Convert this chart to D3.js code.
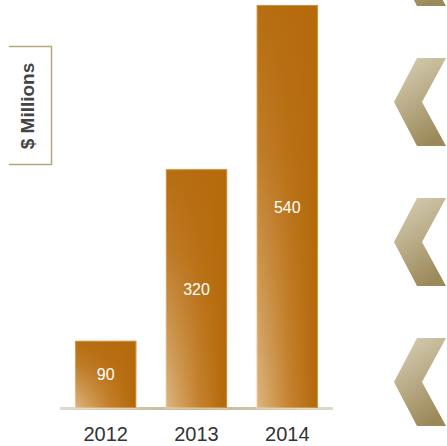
<!DOCTYPE html>
<html>
<head>
<meta charset="utf-8">
<script src="https://cdn.jsdelivr.net/npm/d3@7"></script>
<style>
  body { margin: 0; background: #fff; }
  svg { display: block; }
</style>
</head>
<body>
<svg width="447" height="446"></svg>
<script>
const years = ["2012", "2013", "2014"];
const values = [90, 320, 540];
const axisTitle = "$ Millions";
const chevronRows = [0, 1, 2, 3];

const svg = d3.select('svg');
const defs = svg.append('defs');

// bar fill: light on the left, dark orange on the right
const hGrad = defs.append('linearGradient')
    .attr('id', 'barH')
    .attr('x1', 0).attr('y1', 0).attr('x2', 1).attr('y2', 0);
hGrad.append('stop').attr('offset', '0%').attr('stop-color', '#dcb681');
hGrad.append('stop').attr('offset', '55%').attr('stop-color', '#c4812e');
hGrad.append('stop').attr('offset', '95%').attr('stop-color', '#b46a0b');

// overlay that keeps the top of the bar solid
const vGrad = defs.append('linearGradient')
    .attr('id', 'barV')
    .attr('x1', 0).attr('y1', 0).attr('x2', 0).attr('y2', 1);
vGrad.append('stop').attr('offset', '0%').attr('stop-color', '#b56a0c').attr('stop-opacity', 0.95);
vGrad.append('stop').attr('offset', '35%').attr('stop-color', '#b56a0c').attr('stop-opacity', 0.75);
vGrad.append('stop').attr('offset', '100%').attr('stop-color', '#b56a0c').attr('stop-opacity', 0);

const baseGrad = defs.append('linearGradient')
    .attr('id', 'baseLine')
    .attr('x1', 0).attr('y1', 0).attr('x2', 1).attr('y2', 0);
baseGrad.append('stop').attr('offset', '0%').attr('stop-color', '#dedacb');
baseGrad.append('stop').attr('offset', '50%').attr('stop-color', '#bfb690');
baseGrad.append('stop').attr('offset', '100%').attr('stop-color', '#dedacb');

const chevGrad = defs.append('linearGradient')
    .attr('id', 'chev')
    .attr('x1', 0.2).attr('y1', 0).attr('x2', 0.6).attr('y2', 1);
chevGrad.append('stop').attr('offset', '0%').attr('stop-color', '#d5cdb2');
chevGrad.append('stop').attr('offset', '100%').attr('stop-color', '#9c895a');

const x = d3.scaleBand()
    .domain(years)
    .range([60, 333])
    .paddingInner(0.326)
    .paddingOuter(0.166);

const y = d3.scaleLinear()
    .domain([0, 540])
    .range([408, 5]);

// baseline
svg.append('rect')
    .attr('x', 60)
    .attr('y', 407)
    .attr('width', 273)
    .attr('height', 3)
    .attr('fill', 'url(#baseLine)');

const bars = svg.selectAll('.bar')
    .data(values)
    .enter()
    .append('g')
    .classed('bar', true);

bars.append('rect')
    .attr('x', (d, i) => x(years[i]))
    .attr('y', d => y(d))
    .attr('width', x.bandwidth())
    .attr('height', d => y(0) - y(d))
    .attr('fill', 'url(#barH)');

bars.append('rect')
    .attr('x', (d, i) => x(years[i]))
    .attr('y', d => y(d))
    .attr('width', x.bandwidth())
    .attr('height', d => y(0) - y(d))
    .attr('fill', 'url(#barV)')
    .attr('stroke', 'rgba(255,235,200,0.3)')
    .attr('stroke-width', 2);

bars.append('text')
    .attr('x', (d, i) => x(years[i]) + x.bandwidth() / 2)
    .attr('y', d => (y(d) + y(0)) / 2 + 6)
    .attr('text-anchor', 'middle')
    .attr('font-family', 'Liberation Sans, Arial, sans-serif')
    .attr('font-size', 16)
    .attr('fill', '#fff')
    .text(d => d);

// year labels
svg.append('g')
    .attr('transform', 'translate(0,408)')
    .call(d3.axisBottom(x).tickSize(0).tickPadding(19))
    .call(g => g.select('.domain').remove())
    .selectAll('text')
    .attr('font-family', 'Liberation Sans, Arial, sans-serif')
    .attr('font-size', 20)
    .attr('fill', '#333');

// axis title box, open on the left
svg.append('path')
    .attr('d', 'M9,46.5H51.5V164.5H9')
    .attr('fill', 'none')
    .attr('stroke', '#b5a67e')
    .attr('stroke-width', 1.5);

svg.append('text')
    .attr('transform', 'translate(34,106) rotate(-90)')
    .attr('text-anchor', 'middle')
    .attr('font-family', 'Liberation Sans, Arial, sans-serif')
    .attr('font-weight', 'bold')
    .attr('font-size', 19)
    .attr('fill', '#444')
    .text(axisTitle);

// chevrons down the right edge
svg.selectAll('.chev')
    .data(chevronRows)
    .enter()
    .append('path')
    .classed('chev', true)
    .attr('transform', d => 'translate(0,' + (d * 140 - 38) + ')')
    .attr('d', 'M417,-44L446,-44L422,0L446,44L417,44L394,0Z')
    .attr('fill', 'url(#chev)');
</script>
</body>
</html>
